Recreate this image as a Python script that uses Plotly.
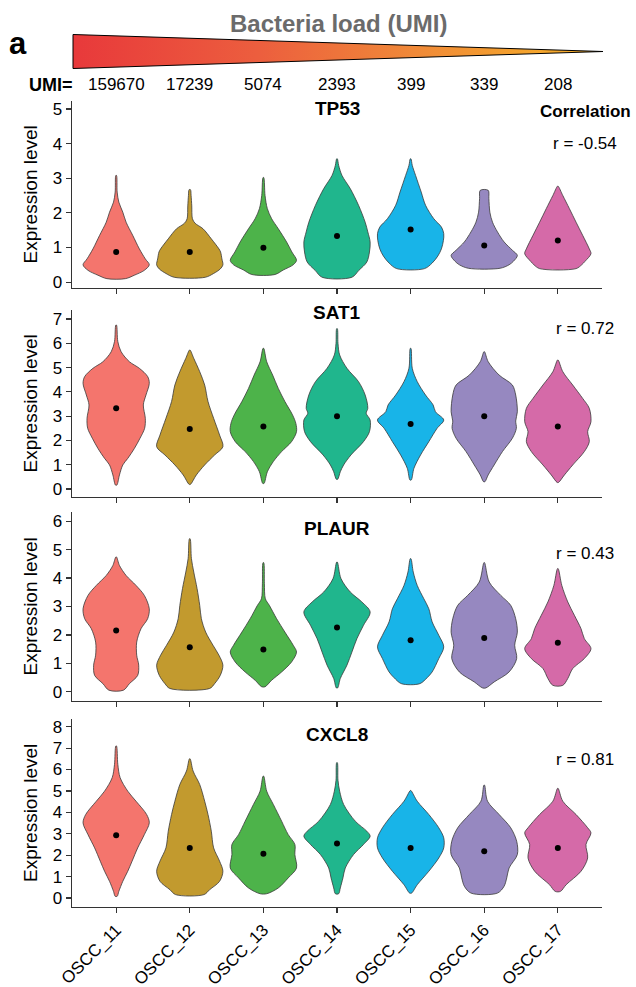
import plotly.graph_objects as go

# ---------------- data ----------------
samples = ["OSCC_11", "OSCC_12", "OSCC_13", "OSCC_14", "OSCC_15", "OSCC_16", "OSCC_17"]
umi_values = ["159670", "17239", "5074", "2393", "399", "339", "208"]
genes = ["TP53", "SAT1", "PLAUR", "CXCL8"]
correlations = ["-0.54", "0.72", "0.43", "0.81"]
colors = ["#F4756D", "#C29A2E", "#4DB34A", "#20B68D", "#18B4E8", "#9688C0", "#D56AA8"]

# medians (black dots)
tp53_median = [0.87, 0.87, 0.99, 1.33, 1.52, 1.06, 1.20]
sat1_median = [3.32, 2.47, 2.57, 3.00, 2.68, 3.00, 2.57]
plaur_median = [2.16, 1.57, 1.49, 2.26, 1.81, 1.89, 1.73]
cxcl8_median = [2.93, 2.34, 2.07, 2.54, 2.34, 2.18, 2.34]

# violin outlines: (expression level, relative half width)
tp53_shape = [
    [(0.10, 0.28), (0.20, 0.55), (0.34, 0.85), (0.50, 1.00), (0.67, 0.88), (0.96, 0.70), (1.35, 0.50),
     (1.73, 0.30), (2.02, 0.20), (2.31, 0.08), (2.60, 0.03), (3.08, 0.01)],
    [(0.14, 0.47), (0.25, 0.72), (0.38, 0.92), (0.50, 1.00), (0.67, 0.97), (0.87, 0.93), (0.96, 0.88),
     (1.25, 0.65), (1.54, 0.40), (1.70, 0.16), (1.83, 0.08), (2.20, 0.06), (2.50, 0.04), (2.67, 0.02)],
    [(0.22, 0.35), (0.35, 0.60), (0.50, 0.90), (0.63, 1.00), (0.87, 0.86), (1.16, 0.70), (1.54, 0.45),
     (1.83, 0.25), (2.12, 0.12), (2.50, 0.05), (3.02, 0.01)],
    [(0.14, 0.45), (0.34, 0.66), (0.58, 0.90), (0.87, 0.98), (1.16, 1.00), (1.45, 0.93), (1.73, 0.85),
     (2.22, 0.65), (2.70, 0.40), (3.08, 0.15), (3.37, 0.05), (3.56, 0.01)],
    [(0.39, 0.42), (0.55, 0.65), (0.75, 0.82), (0.96, 0.93), (1.20, 0.99), (1.40, 1.00), (1.59, 0.93),
     (1.83, 0.70), (2.22, 0.45), (2.60, 0.32), (3.08, 0.15), (3.37, 0.05), (3.56, 0.01)],
    [(0.40, 0.48), (0.50, 0.75), (0.60, 0.88), (0.77, 1.00), (0.92, 0.85), (1.16, 0.60), (1.45, 0.40),
     (1.73, 0.25), (2.02, 0.17), (2.41, 0.14), (2.65, 0.12)],
    [(0.39, 0.55), (0.50, 0.72), (0.60, 0.82), (0.82, 1.00), (0.96, 0.95), (1.35, 0.75), (1.73, 0.55),
     (2.12, 0.35), (2.50, 0.15), (2.77, 0.01)],
]

sat1_shape = [
    [(0.16, 0.02), (0.58, 0.10), (0.99, 0.20), (1.26, 0.35), (1.67, 0.55), (2.09, 0.72), (2.50, 0.86),
     (2.91, 0.88), (3.46, 0.82), (3.87, 0.90), (4.35, 1.00), (4.63, 0.95), (4.97, 0.70), (5.24, 0.40),
     (5.65, 0.15), (6.07, 0.05), (6.75, 0.01)],
    [(0.19, 0.02), (0.58, 0.20), (0.99, 0.45), (1.40, 0.75), (1.74, 1.00), (2.22, 0.90), (2.91, 0.72),
     (3.60, 0.55), (4.28, 0.45), (4.83, 0.30), (5.38, 0.12), (5.72, 0.01)],
    [(0.23, 0.02), (0.71, 0.12), (1.13, 0.30), (1.54, 0.55), (1.95, 0.85), (2.36, 1.00), (2.70, 0.98),
     (3.05, 0.88), (3.60, 0.65), (4.14, 0.45), (4.69, 0.28), (5.24, 0.10), (5.79, 0.01)],
    [(0.40, 0.02), (0.71, 0.10), (0.99, 0.20), (1.40, 0.42), (1.95, 0.80), (2.36, 0.98), (2.84, 1.00),
     (3.12, 0.88), (3.32, 0.93), (3.87, 0.85), (4.42, 0.65), (4.97, 0.30), (5.52, 0.08), (6.00, 0.03),
     (6.60, 0.01)],
    [(0.37, 0.02), (0.85, 0.10), (1.40, 0.30), (1.95, 0.55), (2.50, 0.80), (2.84, 1.00), (3.18, 0.75),
     (3.46, 0.68), (3.87, 0.45), (4.42, 0.20), (4.97, 0.05), (5.79, 0.01)],
    [(0.30, 0.02), (0.58, 0.12), (0.99, 0.30), (1.54, 0.55), (2.09, 0.85), (2.50, 0.97), (2.80, 0.95),
     (3.18, 1.00), (3.87, 0.95), (4.28, 0.85), (4.69, 0.45), (5.24, 0.12), (5.65, 0.01)],
    [(0.27, 0.02), (0.58, 0.20), (0.99, 0.45), (1.54, 0.80), (1.95, 0.95), (2.36, 0.90), (2.77, 1.00),
     (3.32, 0.95), (3.73, 0.75), (4.28, 0.45), (4.83, 0.15), (5.31, 0.01)],
]

plaur_shape = [
    [(0.06, 0.22), (0.29, 0.40), (0.58, 0.65), (0.94, 0.68), (1.29, 0.62), (1.75, 0.62), (2.22, 0.75),
     (2.57, 0.95), (2.92, 1.00), (3.39, 0.85), (3.74, 0.60), (4.09, 0.30), (4.44, 0.10), (4.74, 0.01)],
    [(0.12, 0.60), (0.29, 0.75), (0.58, 0.92), (0.94, 1.00), (1.29, 0.88), (1.64, 0.70), (2.10, 0.48),
     (2.57, 0.35), (3.04, 0.30), (3.63, 0.22), (4.21, 0.12), (4.68, 0.05), (5.38, 0.01)],
    [(0.18, 0.05), (0.41, 0.25), (0.70, 0.55), (1.05, 0.85), (1.40, 1.00), (1.64, 0.90), (2.10, 0.65),
     (2.57, 0.40), (3.04, 0.18), (3.27, 0.06), (3.80, 0.03), (4.54, 0.01)],
    [(0.14, 0.02), (0.47, 0.10), (0.94, 0.30), (1.40, 0.45), (1.87, 0.60), (2.34, 0.80), (2.81, 1.00),
     (3.16, 0.75), (3.51, 0.40), (3.98, 0.12), (4.56, 0.01)],
    [(0.29, 0.28), (0.50, 0.50), (0.70, 0.65), (1.17, 0.85), (1.58, 1.00), (1.99, 0.85), (2.46, 0.65),
     (2.92, 0.55), (3.27, 0.40), (3.74, 0.20), (4.21, 0.08), (4.68, 0.01)],
    [(0.14, 0.05), (0.35, 0.30), (0.70, 0.75), (1.17, 0.98), (1.64, 0.92), (2.10, 1.00), (2.57, 0.95),
     (3.04, 0.80), (3.39, 0.50), (3.86, 0.15), (4.54, 0.01)],
    [(0.23, 0.15), (0.47, 0.30), (0.82, 0.45), (1.17, 0.80), (1.52, 1.00), (1.87, 0.80), (2.22, 0.70),
     (2.69, 0.50), (3.16, 0.30), (3.74, 0.12), (4.33, 0.01)],
]

cxcl8_shape = [
    [(0.08, 0.03), (0.31, 0.08), (0.78, 0.20), (1.25, 0.35), (1.72, 0.48), (2.34, 0.65), (2.96, 0.85),
     (3.51, 1.00), (3.90, 0.92), (4.52, 0.60), (4.99, 0.35), (5.62, 0.12), (6.24, 0.05), (7.10, 0.01)],
    [(0.16, 0.43), (0.39, 0.60), (0.78, 0.90), (1.25, 1.00), (1.72, 0.90), (2.34, 0.72), (3.12, 0.65),
     (3.90, 0.55), (4.52, 0.45), (5.30, 0.30), (5.93, 0.10), (6.50, 0.01)],
    [(0.20, 0.10), (0.47, 0.45), (0.94, 0.75), (1.40, 1.00), (2.03, 0.95), (2.50, 0.95), (2.96, 0.75),
     (3.59, 0.55), (4.37, 0.30), (4.99, 0.10), (5.69, 0.01)],
    [(0.20, 0.05), (0.47, 0.10), (0.94, 0.18), (1.40, 0.25), (2.03, 0.50), (2.50, 0.80), (2.89, 1.00),
     (3.12, 0.90), (3.59, 0.55), (4.37, 0.20), (4.99, 0.08), (5.50, 0.03), (6.32, 0.01)],
    [(0.23, 0.03), (0.62, 0.20), (1.25, 0.55), (1.87, 0.85), (2.34, 1.00), (2.81, 1.00), (3.28, 0.85),
     (3.90, 0.55), (4.52, 0.20), (5.02, 0.01)],
    [(0.23, 0.40), (0.55, 0.60), (0.94, 0.68), (1.40, 0.75), (2.03, 1.00), (2.65, 0.98), (3.28, 0.80),
     (3.90, 0.45), (4.52, 0.10), (5.27, 0.01)],
    [(0.31, 0.08), (0.62, 0.25), (1.25, 0.70), (1.87, 0.90), (2.50, 0.85), (3.04, 1.00), (3.28, 0.90),
     (3.90, 0.55), (4.52, 0.15), (5.12, 0.01)],
]

y_ranges = [[-0.17, 5.23], [-0.33, 7.37], [-0.32, 6.32], [-0.42, 8.36]]
y_domains = [[1 - 288 / 987, 1 - 101 / 987], [1 - 497 / 987, 1 - 310 / 987],
             [1 - 701 / 987, 1 - 512 / 987], [1 - 907 / 987, 1 - 719 / 987]]

shapes_by_gene = [tp53_shape, sat1_shape, plaur_shape, cxcl8_shape]
medians_by_gene = [tp53_median, sat1_median, plaur_median, cxcl8_median]

HALF = 0.45
FONT = "Liberation Sans, Arial, Helvetica, sans-serif"
AX = "#333333"

fig = go.Figure()

for k, (gshape, gmed) in enumerate(zip(shapes_by_gene, medians_by_gene)):
    xa = "x" if k == 0 else f"x{k+1}"
    ya = "y" if k == 0 else f"y{k+1}"
    for i, prof in enumerate(gshape):
        vs = [p[0] for p in prof]
        ws = [p[1] for p in prof]
        xs = [i + HALF * w for w in ws] + [i - HALF * w for w in reversed(ws)]
        ys = vs + list(reversed(vs))
        xs.append(xs[0])
        ys.append(ys[0])
        fig.add_trace(go.Scatter(
            x=xs, y=ys, xaxis=xa, yaxis=ya, mode="lines", fill="toself",
            fillcolor=colors[i], line=dict(color="#3a3a3a", width=0.8, shape="spline", smoothing=0.9),
            hoverinfo="skip", showlegend=False))
    fig.add_trace(go.Scatter(
        x=list(range(len(samples))), y=gmed, xaxis=xa, yaxis=ya, mode="markers",
        marker=dict(color="black", size=6), showlegend=False, hoverinfo="skip"))

# header gradient triangle (decorative) on a hidden pixel-like axis
fig.add_trace(go.Scatter(
    x=[73, 603, 73, 73], y=[34.5, 51.5, 68.5, 34.5], xaxis="x5", yaxis="y5", mode="lines",
    fill="toself", line=dict(color="black", width=1),
    fillgradient=dict(type="horizontal",
                      colorscale=[[0, "#E8393B"], [0.35, "#EC5E3E"], [0.65, "#F08A38"], [0.85, "#F4A22E"], [1, "#F6B02A"]]),
    hoverinfo="skip", showlegend=False))

layout = dict(
    width=636, height=987, margin=dict(l=0, r=0, t=0, b=0, autoexpand=False),
    paper_bgcolor="white", plot_bgcolor="white", showlegend=False,
    font=dict(family=FONT, color="black", size=17),
)
for k in range(4):
    sx = "" if k == 0 else str(k + 1)
    layout[f"xaxis{sx}"] = dict(
        domain=[72 / 636, 602 / 636], range=[-0.6, 6.6], anchor=f"y{sx}", automargin=False,
        tickvals=list(range(len(samples))), ticktext=samples,
        showticklabels=(k == 3), tickangle=-45, tickfont=dict(size=17, color="black"),
        ticks="outside", ticklen=5, tickwidth=1.2, tickcolor=AX,
        showline=True, linecolor=AX, linewidth=1.3, showgrid=False, zeroline=False, fixedrange=True)
    layout[f"yaxis{sx}"] = dict(
        domain=y_domains[k], range=y_ranges[k], anchor=f"x{sx}", dtick=1, tick0=0, automargin=False,
        tickfont=dict(size=17, color="black"),
        ticks="outside", ticklen=5, tickwidth=1.2, tickcolor=AX,
        showline=True, linecolor=AX, linewidth=1.3, showgrid=False, zeroline=False, fixedrange=True)
layout["xaxis5"] = dict(domain=[0, 1], range=[0, 636], visible=False, anchor="y5", fixedrange=True, automargin=False)
layout["yaxis5"] = dict(domain=[1 - 80 / 987, 1], range=[80, 0], visible=False, anchor="x5", fixedrange=True, automargin=False)
fig.update_layout(**layout)

ann = []
# header
ann.append(dict(text="<b>a</b>", x=18 / 636, y=1 - 44 / 987, xref="paper", yref="paper",
                showarrow=False, font=dict(size=31, color="black"), xanchor="center", yanchor="middle"))
ann.append(dict(text="<b>Bacteria load (UMI)</b>", x=338 / 636, y=1 - 23 / 987, xref="paper", yref="paper",
                showarrow=False, font=dict(size=24, color="#6b6b6b"), xanchor="center", yanchor="middle"))
ann.append(dict(text="<b>UMI=</b>", x=51 / 636, y=1 - 85 / 987, xref="paper", yref="paper",
                showarrow=False, font=dict(size=18, color="black"), xanchor="center", yanchor="middle"))
for i, u in enumerate(umi_values):
    ann.append(dict(text=u, x=i, y=1 - 85 / 987, xref="x", yref="paper", showarrow=False,
                    font=dict(size=17, color="black"), xanchor="center", yanchor="middle"))
ann.append(dict(text="<b>Correlation</b>", x=585 / 636, y=1 - 112 / 987, xref="paper", yref="paper",
                showarrow=False, font=dict(size=17, color="black"), xanchor="center", yanchor="middle"))

title_y = [109, 312, 528, 734]
r_y = [143, 328, 553, 759]
for k in range(4):
    ann.append(dict(text=f"<b>{genes[k]}</b>", x=337 / 636, y=1 - title_y[k] / 987, xref="paper", yref="paper",
                    showarrow=False, font=dict(size=19, color="black"), xanchor="center", yanchor="middle"))
    ann.append(dict(text=f"r = {correlations[k]}", x=585 / 636, y=1 - r_y[k] / 987, xref="paper", yref="paper",
                    showarrow=False, font=dict(size=17, color="black"), xanchor="center", yanchor="middle"))
    yc = (y_domains[k][0] + y_domains[k][1]) / 2
    ann.append(dict(text="Expression level", x=30 / 636, y=yc, xref="paper", yref="paper", textangle=-90,
                    showarrow=False, font=dict(size=19, color="black"), xanchor="center", yanchor="middle"))
fig.update_layout(annotations=ann)

fig.write_html("out.html", config={"displayModeBar": False, "staticPlot": True},
               post_script="document.body.style.margin='0px';document.body.style.padding='0px';")
